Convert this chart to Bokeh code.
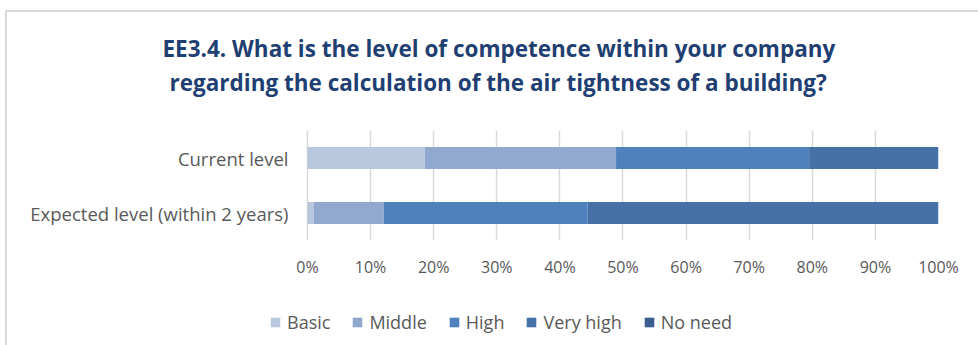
from bokeh.plotting import figure
from bokeh.layouts import column
from bokeh.models import (FactorRange, Range1d, FixedTicker, Legend, LegendItem, Title)
from bokeh.embed import file_html
from bokeh.resources import INLINE

categories = ["Expected level (within 2 years)", "Current level"]
levels = ["Basic", "Middle", "High", "Very high", "No need"]
colors = ["#B9C7DF", "#91A9CE", "#4F81BD", "#4671A6", "#385D8E"]
basic = [1.0, 18.6]
middle = [11.1, 30.3]
high = [32.3, 30.6]
very_high = [55.6, 20.5]
no_need = [0.0, 0.0]
x_ticks = [0, 10, 20, 30, 40, 50, 60, 70, 80, 90, 100]
title_line1 = "EE3.4. What is the level of competence within your company"
title_line2 = "regarding the calculation of the air tightness of a building?"

data = dict(cat=categories, Basic=basic, Middle=middle, High=high,
            **{"Very high": very_high, "No need": no_need})

FONT = "Open Sans"
GRAY = "#595959"
TITLE_COLOR = "#1F3F73"

# frame spans canvas x 262..931; value 0 sits 38 px right of the frame edge
p = figure(width=971, height=278, output_backend="svg", toolbar_location=None,
           y_range=FactorRange(*categories, range_padding=0),
           x_range=Range1d(-6.02, 100),
           min_border_left=262, min_border_right=40,
           min_border_top=118, min_border_bottom=50)
p.outline_line_color = None

p.hbar_stack(levels, y="cat", height=0.4, color=colors, source=data, line_color=None)

p.xaxis.ticker = FixedTicker(ticks=x_ticks)
p.xaxis.major_label_overrides = {t: f"{t}%" for t in x_ticks}
p.xaxis.axis_line_color = None
p.xaxis.major_tick_line_color = None
p.xaxis.major_tick_out = 0
p.xaxis.minor_tick_line_color = None
p.xaxis.major_label_standoff = 15
p.xaxis.major_label_text_font = FONT
p.xaxis.major_label_text_font_size = "16px"
p.xaxis.major_label_text_color = GRAY

p.yaxis.axis_line_color = None
p.yaxis.major_tick_line_color = None
p.yaxis.major_tick_out = 0
p.yaxis.major_label_standoff = -19
p.yaxis.major_label_text_font = FONT
p.yaxis.major_label_text_font_size = "18.5px"
p.yaxis.major_label_text_color = GRAY

p.ygrid.grid_line_color = None
p.xgrid.ticker = FixedTicker(ticks=x_ticks)
p.xgrid.grid_line_color = "#D9D9D9"
p.xgrid.grid_line_width = 1.5

# blank spacer between the plot area and the title
spacer = Title(text=" ", text_font_size="1px", standoff=30)
p.add_layout(spacer, "above")

t2 = Title(text=title_line2, align="left", offset=-100, standoff=0,
           text_font=FONT, text_font_size="22.5px", text_color=TITLE_COLOR,
           text_font_style="bold")
t1 = Title(text=title_line1, align="left", offset=-107, standoff=2,
           text_font=FONT, text_font_size="22.5px", text_color=TITLE_COLOR,
           text_font_style="bold")
p.add_layout(t2, "above")
p.add_layout(t1, "above")

# legend strip (its bars have zero height; only the legend shows)
q = figure(width=971, height=55, output_backend="svg", toolbar_location=None,
           x_range=Range1d(1000, 1001), y_range=FactorRange(*categories),
           x_axis_type=None, y_axis_type=None,
           min_border_left=0, min_border_right=0, min_border_top=0, min_border_bottom=0)
q.outline_line_color = None
q.grid.visible = False
legend_renderers = q.hbar_stack(levels, y="cat", height=0, color=colors, source=data,
                                line_color=None)

legend = Legend(items=[LegendItem(label=l, renderers=[r])
                       for l, r in zip(levels, legend_renderers)],
                orientation="horizontal", location=(0, 11),
                glyph_width=12, glyph_height=12, label_standoff=6, spacing=21,
                padding=0, margin=0, border_line_color=None, background_fill_alpha=0,
                label_text_font=FONT, label_text_font_size="18px",
                label_text_color=GRAY)
q.add_layout(legend, "center")

layout = column(p, q, spacing=0,
                styles={"margin-left": "5px", "margin-top": "10px",
                        "border-left": "2px solid #D9D9D9",
                        "border-top": "2px solid #D9D9D9"})

open("out.html", "w").write(file_html(layout, INLINE))
